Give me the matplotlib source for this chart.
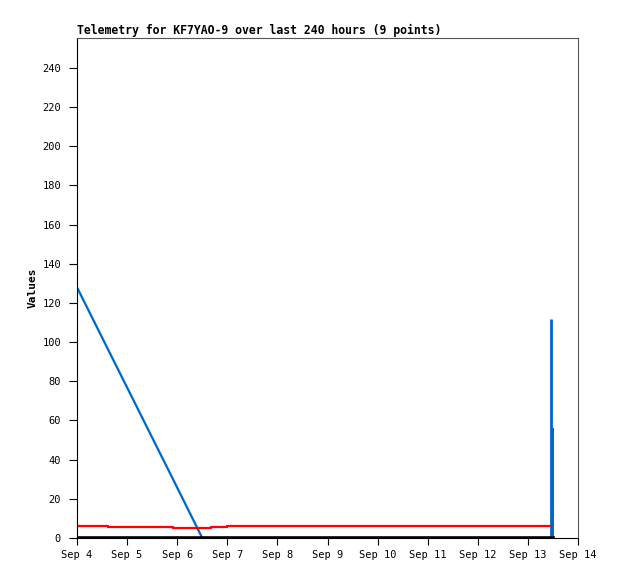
import numpy as np
import matplotlib
matplotlib.use('Agg')
import matplotlib.pyplot as plt
from datetime import datetime, timedelta

# hours after Sep 4 00:00
hours = [0, 15, 46, 60, 64, 72, 227.2, 228.1, 228.4]
blue = [128, 96, 30, 0, 0, 0, 112, 56, 0]
red = [6, 5.5, 5, 5, 5.5, 6, 6, 6, 6]
black = [0, 0, 0, 0, 0, 0, 0, 0, 0]
xticks = ['Sep 4', 'Sep 5', 'Sep 6', 'Sep 7', 'Sep 8', 'Sep 9', 'Sep 10',
          'Sep 11', 'Sep 12', 'Sep 13', 'Sep 14']

t0 = datetime(2019, 9, 4)
t = [t0 + timedelta(hours=h) for h in hours]

plt.rcParams['font.family'] = 'DejaVu Sans Mono'
fig = plt.figure(figsize=(6.18, 5.79), dpi=100)
ax = fig.add_axes([77/618, 41/579, 501/618, 500/579])

# blue line, with the two last readings as spikes
ax.plot(t[:6], blue[:6], color='#0066cc', lw=1.6)
ax.vlines(t[6], 0, blue[6], color='#0066cc', lw=2.0)
ax.vlines(t[7], 0, blue[7], color='#0066cc', lw=1.4)
ax.plot(t[:7], red[:7], color='#ff0000', lw=1.6, drawstyle='steps-post')
ax.plot(t[:8], black[:8], color='black', lw=2.6, zorder=3)

ax.set_xlim(t0, t0 + timedelta(days=10))
ax.set_ylim(0, 255.3)
ax.set_yticks(np.arange(0, 241, 20))
ax.set_xticks([t0 + timedelta(days=i) for i in range(11)])
ax.set_xticklabels(xticks)
ax.tick_params(labelsize=7.5, direction='out', length=5, color='black')
ax.tick_params(axis='y', length=5.5, pad=6)
for s in ['top', 'right']:
    ax.spines[s].set_color('#555555')
    ax.spines[s].set_linewidth(0.8)
ax.set_ylabel('Values', fontsize=8, fontweight='bold', labelpad=3)
ax.set_title('Telemetry for KF7YAO-9 over last 240 hours (9 points)',
             fontsize=8.3, fontweight='bold', loc='left', pad=3)

fig.savefig('out.png', dpi=100)
